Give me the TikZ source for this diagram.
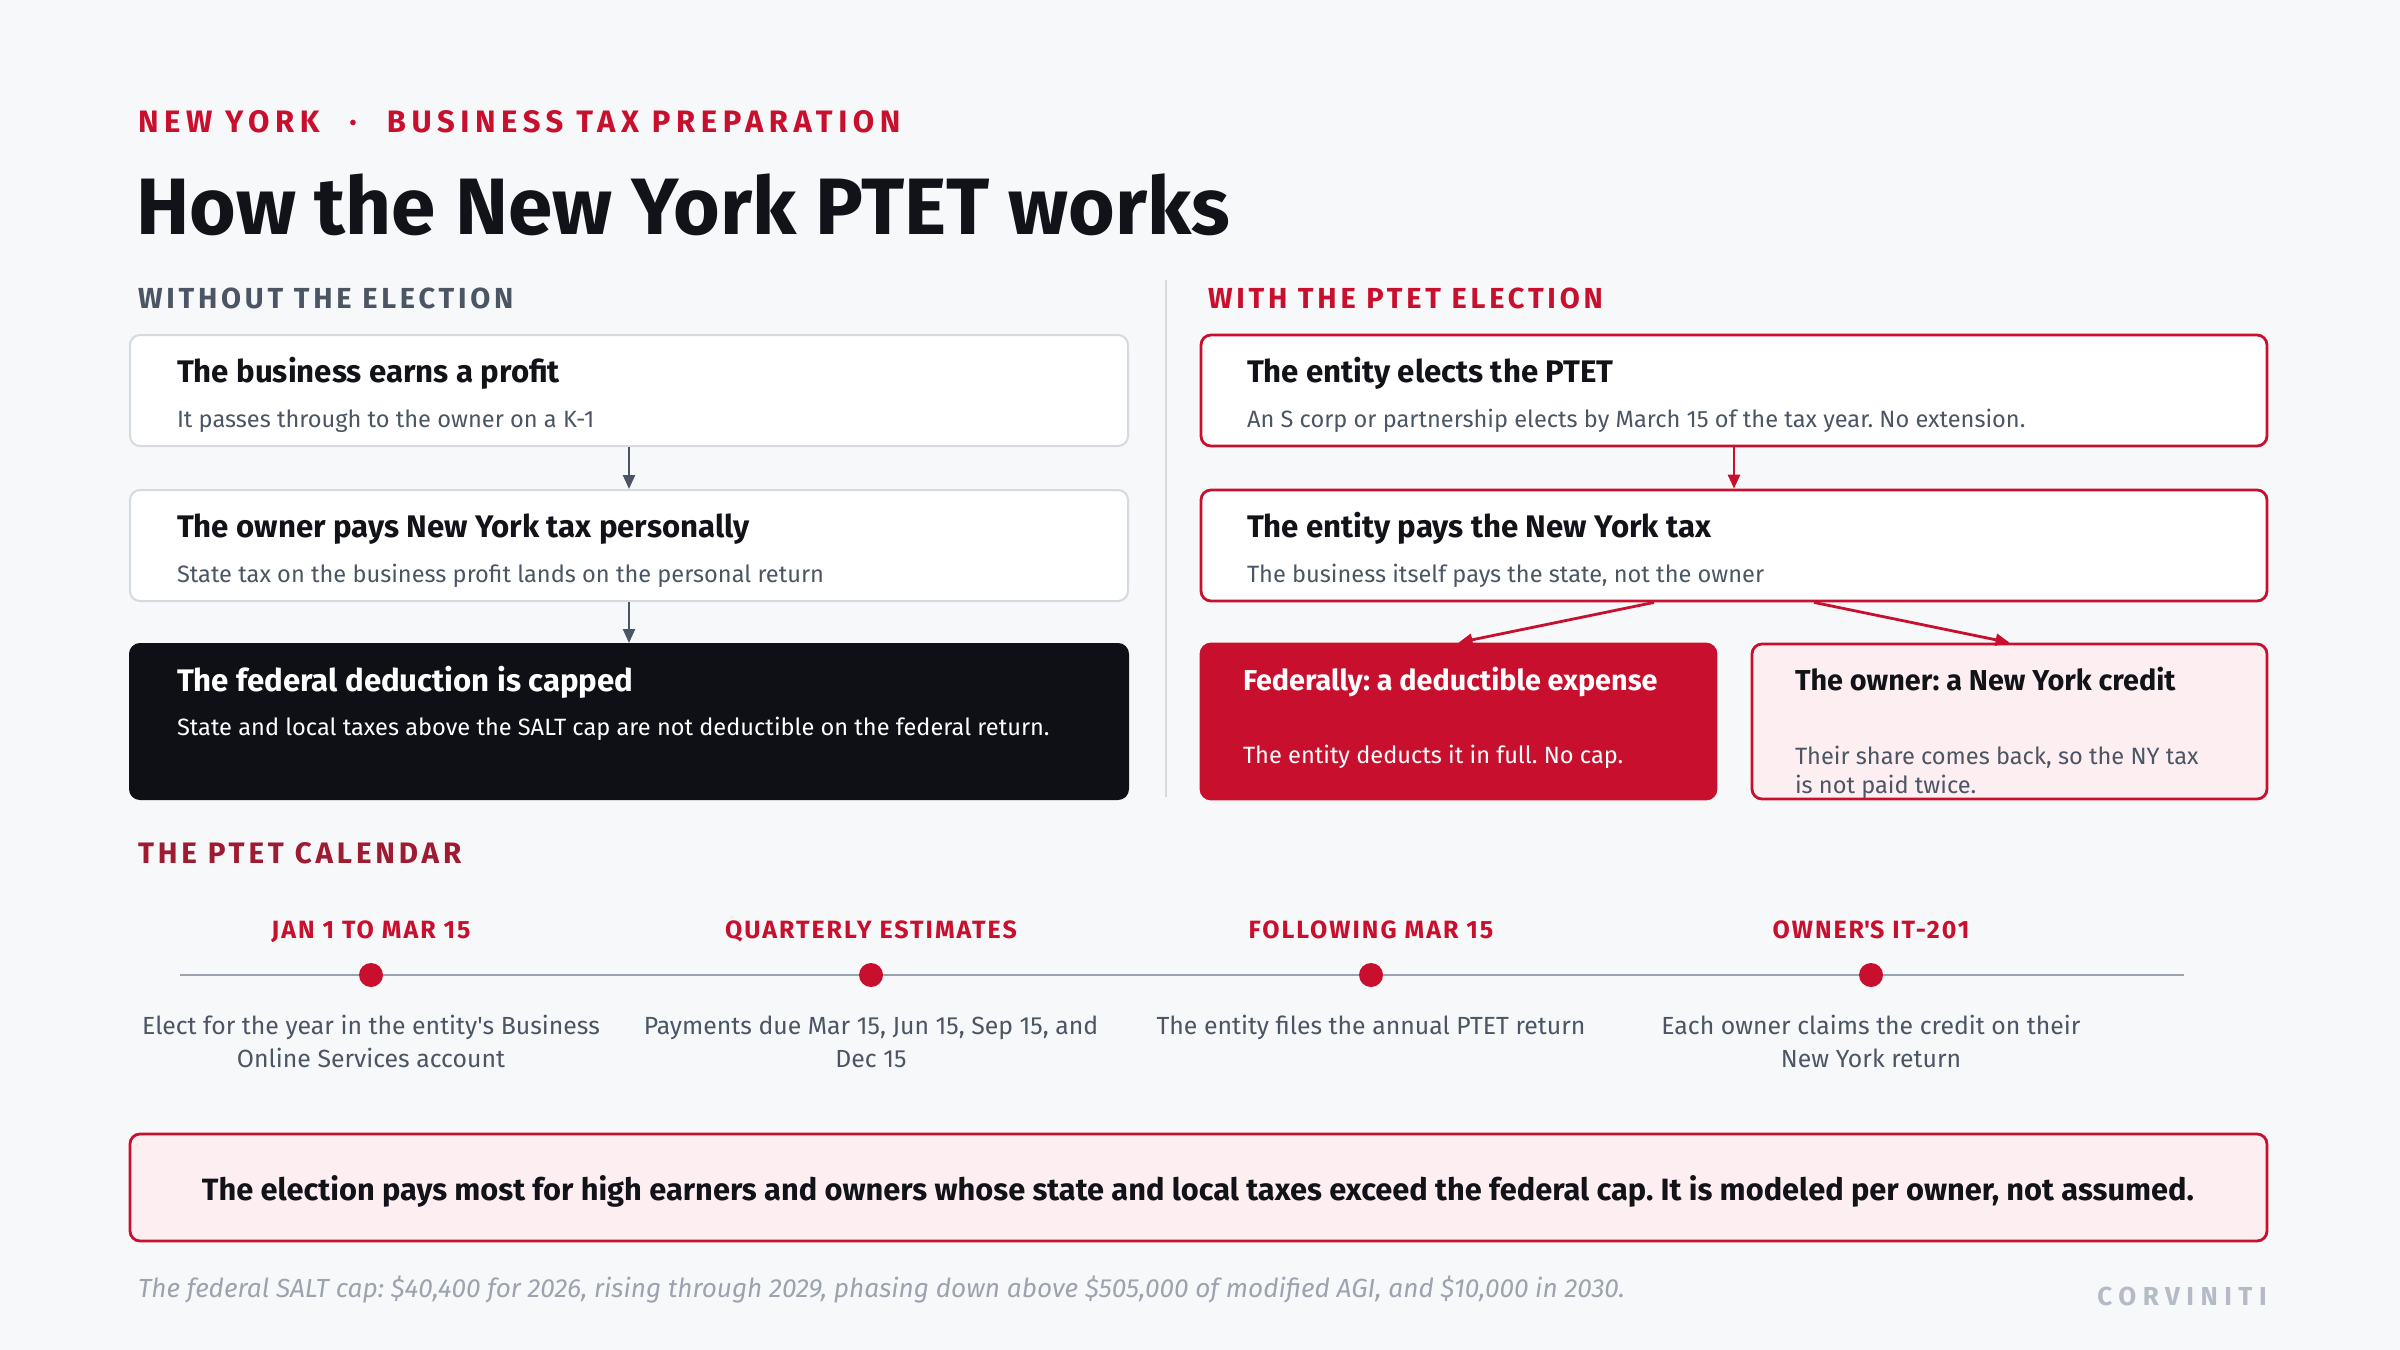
\documentclass[tikz,border=0pt]{standalone}
\usepackage{fontspec}
\setmainfont{Fira Sans}
\usetikzlibrary{arrows.meta,fit,calc}
\frenchspacing
\newcommand\sq{{\XeTeXglyph\XeTeXcharglyph"0027\relax}}
\definecolor{bgc}{HTML}{F7F8FA}
\definecolor{redc}{HTML}{C8102E}
\definecolor{darkredc}{HTML}{9E1B32}
\definecolor{grayt}{HTML}{4B5563}
\definecolor{borderg}{HTML}{D5DAE1}
\definecolor{lineg}{HTML}{9AA3AE}
\definecolor{footg}{HTML}{9CA3AF}
\definecolor{brandg}{HTML}{B4BBC6}
\definecolor{pinkc}{HTML}{FCEEF1}
\definecolor{blackbox}{HTML}{0E1015}
\definecolor{inkc}{HTML}{111318}
\tikzset{
  txt/.style={inner sep=0pt, outer sep=0pt, anchor=base west},
  boxL/.style={draw=borderg, line width=1pt, fill=white, rounded corners=5pt, inner sep=0pt},
  boxD/.style={draw=blackbox, line width=1pt, fill=blackbox, rounded corners=5pt, inner sep=0pt},
  boxR/.style={draw=redc, line width=1.4pt, fill=white, rounded corners=5pt, inner sep=0pt},
  boxRF/.style={draw=redc, line width=1.4pt, fill=redc, rounded corners=5pt, inner sep=0pt},
  boxP/.style={draw=redc, line width=1.4pt, fill=pinkc, rounded corners=5pt, inner sep=0pt},
  btitle/.style={txt, font=\fontsize{15.6}{19}\selectfont\bfseries, text=inkc},
  bstitle/.style={txt, font=\fontsize{14.4}{17}\selectfont\bfseries, text=inkc},
  bsub/.style={txt, font=\fontsize{11.8}{14.5}\selectfont, text=grayt},
  arrG/.style={draw=grayt, line width=1.2pt, -{Triangle[length=7pt,width=6pt]}},
  arrR/.style={draw=redc, line width=1.4pt, -{Triangle[length=7pt,width=6pt]}},
  tlab/.style={inner sep=0pt, anchor=base, font=\fontsize{12.5}{15}\selectfont\bfseries\addfontfeatures{LetterSpace=8}, text=redc},
  tdesc/.style={inner sep=0pt, anchor=north, align=center, font=\fontsize{12.4}{16.5}\selectfont, text=grayt},
  tdot/.style={circle, fill=redc, inner sep=0pt, minimum size=12pt},
}
\begin{document}
\begin{tikzpicture}[x=0.5pt,y=-0.5pt]
\fill[bgc] (0,0) rectangle (2400,1350);
\useasboundingbox (0,0) rectangle (2400,1350);

% header
\node[txt, font=\fontsize{15.5}{18}\selectfont\bfseries\addfontfeatures{LetterSpace=18}, text=redc] (kick) at (138,132) {NEW YORK\hspace{15pt}·\hspace{15pt}BUSINESS TAX PREPARATION};
\node[txt, font=\fontsize{40}{48}\selectfont\bfseries, text=inkc] (title) at (136,234) {How the New York PTET works};

% section labels
\node[txt, font=\fontsize{14.5}{17}\selectfont\bfseries\addfontfeatures{LetterSpace=13}, text=grayt] (secL) at (138,308) {WITHOUT THE ELECTION};
\node[txt, font=\fontsize{14.5}{17}\selectfont\bfseries\addfontfeatures{LetterSpace=13}, text=redc] (secR) at (1208,308) {WITH THE PTET ELECTION};
\draw[borderg, line width=1pt] (1166,280) -- (1166,797);

% left column
\node[boxL, fit={(130,335) (1128,446)}] (b1) {};
\node[btitle] (b1t) at (177,382) {The business earns a profit};
\node[bsub] (b1s) at (177,427) {It passes through to the owner on a K-1};

\node[boxL, fit={(130,490) (1128,601)}] (b2) {};
\node[btitle] (b2t) at (177,537) {The owner pays New York tax personally};
\node[bsub] (b2s) at (177,582) {State tax on the business profit lands on the personal return};

\node[boxD, fit={(130,644) (1128,799)}] (b3) {};
\node[btitle, text=white] (b3t) at (177,691) {The federal deduction is capped};
\node[bsub, text=white] (b3s) at (177,735) {State and local taxes above the SALT cap are not deductible on the federal return.};

\draw[arrG] (b1.south) -- (b2.north);
\draw[arrG] (b2.south) -- (b3.north);

% right column
\node[boxR, fit={(1201,335) (2267,446)}] (r1) {};
\node[btitle] (r1t) at (1247,382) {The entity elects the PTET};
\node[bsub] (r1s) at (1247,427) {An S corp or partnership elects by March 15 of the tax year. No extension.};

\node[boxR, fit={(1201,490) (2267,601)}] (r2) {};
\node[btitle] (r2t) at (1247,537) {The entity pays the New York tax};
\node[bsub] (r2s) at (1247,582) {The business itself pays the state, not the owner};

\node[boxRF, fit={(1201,644) (1716,799)}] (r3) {};
\node[bstitle, text=white] (r3t) at (1243,690) {Federally: a deductible expense};
\node[bsub, text=white] (r3s) at (1243,763) {The entity deducts it in full. No cap.};

\node[boxP, fit={(1752,644) (2267,799)}] (r4) {};
\node[bstitle] (r4t) at (1795,690) {The owner: a New York credit};
\node[bsub, anchor=north west, align=left] (r4s) at (1795,746) {Their share comes back, so the NY tax\\is not paid twice.};

\draw[arrR] (r1.south) -- (r2.north);
\draw[arrR] ($(r2.south)+(-80,0)$) -- (r3.north);
\draw[arrR] ($(r2.south)+(80,0)$) -- (r4.north);

% calendar
\node[txt, font=\fontsize{14.8}{17}\selectfont\bfseries\addfontfeatures{LetterSpace=13}, text=darkredc] (cal) at (138,863) {THE PTET CALENDAR};
\coordinate (tl0) at (180,975);
\coordinate (tl1) at (2184,975);
\draw[lineg, line width=1.4pt] (tl0) -- (tl1);

\node[tdot] (d1) at (371,975) {};
\node[tdot] (d2) at (871,975) {};
\node[tdot] (d3) at (1371,975) {};
\node[tdot] (d4) at (1871,975) {};

\node[tlab] (l1) at (371,938) {JAN 1 TO MAR 15};
\node[tlab] (l2) at (871,938) {QUARTERLY ESTIMATES};
\node[tlab] (l3) at (1371,938) {FOLLOWING MAR 15};
\node[tlab] (l4) at (1871,938) {OWNER\sq S IT-201};

\node[tdesc] (t1) at (371,1015) {Elect for the year in the entity\sq s Business\\Online Services account};
\node[tdesc] (t2) at (871,1015) {Payments due Mar 15, Jun 15, Sep 15, and\\Dec 15};
\node[tdesc] (t3) at (1371,1015) {The entity files the annual PTET return};
\node[tdesc] (t4) at (1871,1015) {Each owner claims the credit on their\\New York return};

% callout
\node[boxP, fit={(130,1134) (2267,1241)}] (call) {};
\node[inner sep=0pt, anchor=base, font=\fontsize{15.4}{18}\selectfont\bfseries, text=inkc] (callt) at (1198,1200) {The election pays most for high earners and owners whose state and local taxes exceed the federal cap. It is modeled per owner, not assumed.};

% footer
\node[txt, font=\fontsize{13.1}{15}\selectfont\itshape, text=footg] (foot) at (138,1297) {The federal SALT cap: \$40,400 for 2026, rising through 2029, phasing down above \$505,000 of modified AGI, and \$10,000 in 2030.};
\node[inner sep=0pt, anchor=base east, font=\fontsize{13}{15}\selectfont\bfseries\addfontfeatures{LetterSpace=25}, text=brandg] (brand) at (2267,1305) {CORVINITI};
\end{tikzpicture}
\end{document}
